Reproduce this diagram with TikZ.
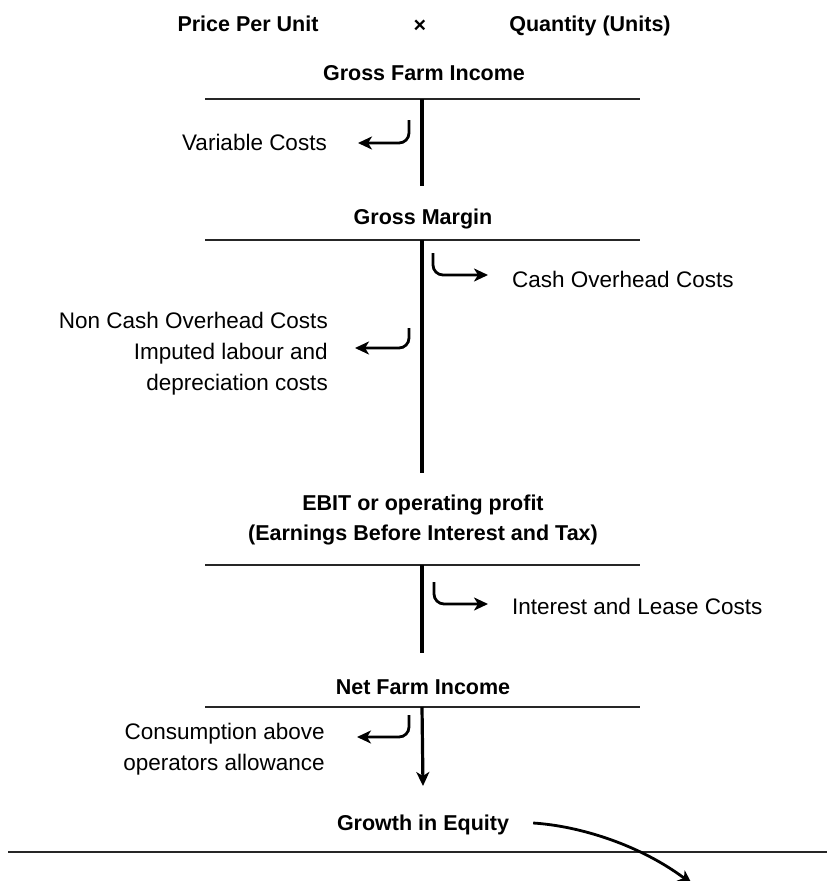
\documentclass[tikz,border=0pt]{standalone}
\usepackage{fontspec}
\setmainfont{Liberation Sans}
\usetikzlibrary{arrows.meta}

\begin{document}
\begin{tikzpicture}[
        x=1pt, y=-1pt,
        every node/.style={inner sep=0pt, text height=16pt, text depth=5pt, font=\fontsize{22.5}{31}\selectfont},
        title/.style={align=center, font=\fontsize{21.5}{30}\selectfont\bfseries},
        cost/.style={align=right, anchor=east},
        gain/.style={anchor=west},
        rule/.style={line width=1.5pt, black!85},
        bar/.style={line width=3.2pt},
        tip/.style={-{Stealth[length=14pt, width=13pt, inset=4pt]}},
        arrow/.style={tip, line width=2.8pt, rounded corners=10pt}
    ]
    \useasboundingbox (0,0) rectangle (827,881);

    % income line
    \node[title] (price) at (248,26) {Price Per Unit};
    \node[title] (times) at (420,27) {×};
    \node[title] (qty) at (590,26) {Quantity (Units)};

    \node[title] (gfi) at (424,75) {Gross Farm Income};
    \draw[rule] (205,99) -- (640,99);
    \draw[bar] (422,99) -- (422,186);
    \node[cost] (varc) at (327,145) {Variable Costs};
    \draw[arrow] (409,120) coordinate (v1) |- ([xshift=31pt,yshift=2pt]varc.east);

    \node[title] (gm) at (423,219) {Gross Margin};
    \draw[rule] (205,240) -- (640,240);
    \draw[bar] (422,240) -- (422,473);
    \node[gain] (cash) at (512,282) {Cash Overhead Costs};
    \draw[arrow] (433,253) coordinate (c1) |- ([xshift=-24pt,yshift=7pt]cash.west);
    % last line sits on the node centre
    \node[cost] (noncash) at (328,385) {Non Cash Overhead Costs\\Imputed labour and\\depreciation costs};
    \draw[arrow] (409,328) coordinate (n1) |- ([xshift=27pt,yshift=37pt]noncash.east);

    \node[title] (ebit) at (423,535) {EBIT or operating profit\\(Earnings Before Interest and Tax)};
    \draw[rule] (205,565) -- (640,565);
    \draw[bar] (422,565) -- (422,653);
    \node[gain] (intc) at (512,609) {Interest and Lease Costs};
    \draw[arrow] (434,582) coordinate (i1) |- ([xshift=-24pt,yshift=5pt]intc.west);

    \node[title] (nfi) at (423,689) {Net Farm Income};
    \draw[rule] (205,707) -- (640,707);
    \node[cost] (cons) at (325,765) {Consumption above\\operators allowance};
    \draw[arrow] (409,715) coordinate (s1) |- ([xshift=32pt,yshift=28pt]cons.east);

    \node[title] (growth) at (423,825) {Growth in Equity};
    \draw[bar, tip] (422,707) -- (growth.north |- 0,786);
    \draw[rule] (8,852) -- (827,852);
    \draw[arrow] ([xshift=24pt,yshift=2pt]growth.east) .. controls (580,826) and (640,845) .. (692,884);

\end{tikzpicture}
\end{document}
